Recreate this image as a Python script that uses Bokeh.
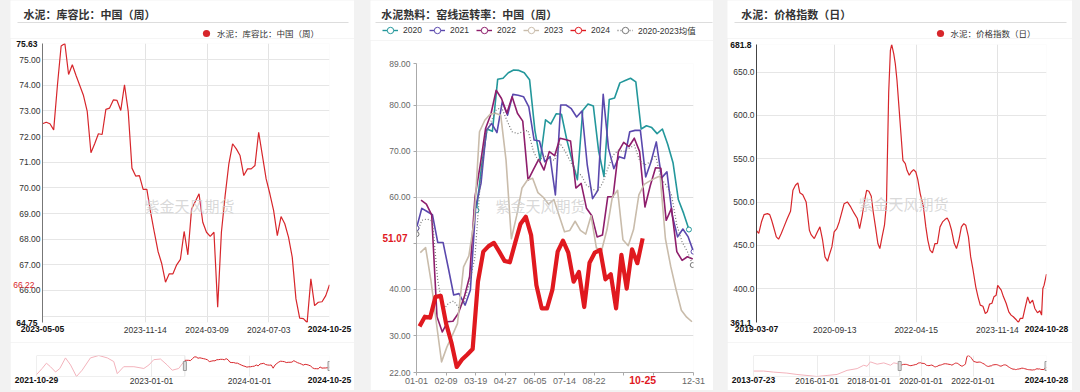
import numpy as np
import pandas as pd
from bokeh.plotting import figure
from bokeh.models import (Range1d, FixedTicker, PrintfTickFormatter, DatetimeTickFormatter,
                          Label, Legend, LegendItem, BoxAnnotation, Spacer, LinearAxis,
                          DatetimeAxis, Plot)
from bokeh.layouts import row, column
from bokeh.core.properties import value
from bokeh.embed import file_html
from bokeh.resources import INLINE

FONT = "Liberation Sans, Noto Sans CJK SC"
TFONT = "Noto Sans CJK SC"
RED = "#d7262b"
PINK = "#f3b3bc"
WATERMARK = "紫金天风期货"

# ---------------- Panel 1 data: 水泥 库容比 (weekly) ----------------
p1_title = "水泥：库容比：中国（周）"
p1_start = "2023-05-05"
p1_vals = [72.50, 72.56, 72.50, 72.26, 73.99, 75.53, 75.63, 74.42, 74.80, 74.38,
           73.99, 73.60, 72.98, 71.37, 71.72, 72.11, 72.08, 73.06, 73.11, 73.43,
           73.41, 73.02, 74.02, 72.98, 70.77, 70.46, 70.48, 69.94, 69.94, 69.05,
           68.27, 67.52, 67.04, 66.32, 66.65, 66.65, 67.00, 67.21, 68.30, 67.39,
           69.18, 69.47, 69.77, 68.66, 68.27, 68.11, 68.27, 65.35, 68.27, 69.70,
           70.94, 71.72, 71.52, 71.26, 70.48, 70.74, 70.74, 70.87, 72.17, 71.26,
           70.35, 69.77, 69.12, 68.14, 68.88, 68.60, 68.08, 67.30, 65.67, 64.92,
           64.90, 64.75, 66.45, 65.41, 65.54, 65.56, 65.80, 66.22]
p1_xticks = ["2023-11-14", "2024-03-09", "2024-07-03"]
p1_ygrid = [65, 66, 67, 68, 69, 70, 71, 72, 73, 74, 75]
p1_yticks = [66, 67, 68, 69, 70, 71, 72, 73, 74, 75]
p1_hist_dates = ["2021-10-29", "2021-11-19", "2021-12-05", "2021-12-20", "2022-01-08",
                 "2022-01-24", "2022-02-14", "2022-03-05", "2022-03-27", "2022-04-17",
                 "2022-05-18", "2022-06-18", "2022-07-20", "2022-08-13", "2022-08-26",
                 "2022-09-19", "2022-10-27", "2022-12-03", "2022-12-22", "2023-01-09",
                 "2023-02-03", "2023-02-28", "2023-03-19", "2023-04-12"]
p1_hist_vals = [59.5, 65.1, 69.9, 66.7, 61.9, 65.1, 74.7, 68.3, 57.8, 63.5,
                74.7, 76.9, 74.7, 71.4, 60.4, 66.7, 66.7, 65.1, 68.3, 73.1,
                73.7, 68.3, 63.5, 65.1]
p1_slider_ticks = ["2023-01-01", "2024-01-01"]

# ---------------- Panel 2 data: 熟料 窑线运转率 (weekly, seasonal) ----------------
p2_title = "水泥熟料：窑线运转率：中国（周）"
p2_names = ["2020", "2021", "2022", "2023", "2024", "2020-2023均值"]
p2_starts = ["2020-01-03", "2021-01-01", "2022-01-07", "2023-01-06", "2024-01-05", "2024-01-01"]
p2_colors = ["#23979b", "#5a48ad", "#8e1e6c", "#c9bcab", "#e0191f", "#777777"]
nan = float("nan")
v2020 = [nan] * 11 + [57.2, 67.0, 74.8, 74.3, 85.6, 85.8, 87.0, 87.6, 87.5, 87.0,
                      85.5, 74.5, 68.0, 76.8, 75.9, 78.1, 78.0, 72.5, 68.0, 63.8,
                      78.8, 80.2, 79.8, 70.0, 64.5, 81.2, 81.5, 84.8, 85.3, 85.8,
                      85.0, 74.8, 75.5, 75.1, 73.8, 74.8, 71.5, 67.5, 59.5, 56.5, 53.0]
v2021 = [53.3, 57.6, 56.9, 56.2, 50.2, 50.2, 44.6, 38.8, 39.1, 36.6, 39.9, 58.0, 63.0,
         74.5, 76.0, 74.0, 80.7, 77.8, 82.3, 82.1, 81.8, 79.6, 72.4, 72.2, 67.7, 68.8,
         60.5, 80.0, 80.0, 79.2, 77.4, 78.7, 67.0, 59.7, 61.5, 82.3, 70.6, 66.2, 68.8,
         68.4, 74.2, 74.5, 74.5, 64.4, 67.7, 72.0, 64.2, 65.5, 56.1, 51.4, 53.1, 51.4, 48.2]
v2022 = [59.4, 58.5, 56.2, 34.1, 30.8, 33.0, 33.1, 34.8, 38.4, 42.8, 60.0, 67.0, 74.9,
         78.0, 83.2, 81.4, 78.2, 81.8, 78.2, 76.5, 63.7, 66.0, 68.2, 65.9, 69.9, 69.0,
         72.8, 72.5, 72.2, 62.0, 63.0, 57.6, 56.0, 51.4, 51.8, 60.1, 60.1, 69.9, 71.9,
         71.0, 72.8, 69.9, 57.9, 62.5, 66.4, 66.3, 55.0, 57.6, 48.2, 46.3, 47.1, 46.6]
v2023 = [48.0, 49.1, 42.0, 33.0, 24.3, 27.5, 30.0, 32.6, 44.9, 47.3, 55.0, 74.2, 76.7,
         78.0, 78.2, 77.8, 68.0, 51.0, 56.0, 62.0, 63.7, 64.1, 61.0, 60.0, 58.5, 59.5,
         56.0, 52.5, 52.8, 54.8, 52.8, 52.0, 56.0, 49.0, 48.5, 53.0, 60.0, 61.5, 50.8,
         49.5, 53.0, 60.5, 62.8, 63.5, 64.1, 64.6, 51.0, 45.0, 40.0, 35.5, 34.0, 33.0]
v2024 = [32.0, 34.1, 33.9, 38.4, 38.6, 32.6, 28.5, 23.2, 24.8, 25.9, 27.1, 41.7, 48.2,
         49.4, 50.1, 48.2, 46.2, 45.9, 50.1, 54.2, 55.8, 51.8, 40.9, 35.9, 35.9, 39.9,
         48.2, 50.6, 48.0, 41.7, 43.8, 36.2, 45.8, 48.0, 48.6, 42.2, 43.3, 35.9, 47.5,
         40.2, 48.7, 45.7, 51.07]
vavg = [52.0, 55.0, 55.3, 54.8, 42.0, 35.5, 37.0, 37.5, 36.0, 37.5, 41.5, 47.0, 63.0,
        73.5, 76.4, 78.9, 79.5, 76.7, 74.2, 73.8, 74.2, 74.5, 70.0, 67.7, 69.1, 68.4,
        68.0, 71.7, 69.9, 67.7, 65.5, 64.8, 62.6, 61.9, 61.2, 63.0, 66.2, 69.1, 70.2,
        69.9, 70.6, 71.3, 68.0, 67.0, 67.7, 69.1, 64.1, 62.6, 60.5, 54.0, 50.3, 48.2, 45.3]
p2_values = [v2020, v2021, v2022, v2023, v2024, vavg]
p2_xticks = [0, 39, 78, 117, 156, 195, 234, 273, 312, 365]
p2_xlabels = ["01-01", "02-09", "03-19", "04-27", "06-05", "07-14", "08-22", "", "", "12-31"]
p2_yticks = [22, 30, 40, 50, 60, 70, 80, 89]

# ---------------- Panel 3 data: 水泥 价格指数 (daily) ----------------
p3_title = "水泥：价格指数（日）"
p3_dates = ["2019-03-07", "2019-03-23", "2019-04-11", "2019-04-30", "2019-05-24", "2019-06-09",
            "2019-06-21", "2019-07-03", "2019-07-26", "2019-08-11", "2019-08-30", "2019-09-18",
            "2019-10-12", "2019-11-04", "2019-11-21", "2019-12-09", "2019-12-26",
            "2020-01-09", "2020-01-30", "2020-02-23", "2020-03-17", "2020-03-29", "2020-04-21",
            "2020-05-15", "2020-05-31", "2020-06-19", "2020-07-06", "2020-07-24", "2020-08-05",
            "2020-08-24", "2020-09-09", "2020-09-28", "2020-10-15", "2020-10-31", "2020-11-19",
            "2020-12-12",
            "2021-01-05", "2021-01-28", "2021-02-21", "2021-03-09", "2021-03-28", "2021-04-14",
            "2021-04-28", "2021-05-14", "2021-05-31", "2021-06-14", "2021-06-30", "2021-07-17",
            "2021-07-31", "2021-08-16", "2021-09-02", "2021-09-16", "2021-10-02", "2021-10-14",
            "2021-10-23", "2021-11-07", "2021-11-18", "2021-11-30", "2021-12-14", "2021-12-28",
            "2022-01-11", "2022-01-28", "2022-02-09", "2022-02-25", "2022-03-11", "2022-03-28",
            "2022-04-13", "2022-04-27", "2022-05-14", "2022-06-06", "2022-06-23", "2022-07-07",
            "2022-07-23", "2022-08-09", "2022-08-27", "2022-09-13", "2022-10-02", "2022-10-20",
            "2022-11-06", "2022-11-22", "2022-12-06", "2022-12-23",
            "2023-01-11", "2023-01-27", "2023-02-13", "2023-03-03", "2023-03-20", "2023-04-03",
            "2023-04-22", "2023-05-08", "2023-05-25", "2023-06-13", "2023-06-29", "2023-07-15",
            "2023-08-03", "2023-08-20", "2023-09-03", "2023-09-19", "2023-10-06", "2023-10-20",
            "2023-11-05", "2023-11-16", "2023-12-11", "2023-12-27",
            "2024-01-15", "2024-02-03", "2024-02-19", "2024-03-06", "2024-03-25", "2024-04-11",
            "2024-04-25", "2024-05-12", "2024-05-28", "2024-06-16", "2024-07-02", "2024-07-21",
            "2024-08-06", "2024-08-25", "2024-09-11", "2024-09-23", "2024-10-02", "2024-10-11",
            "2024-10-28"]
p3_vals = [467.0, 464.0, 477.0, 485.6, 486.7, 485.6, 480.0, 473.3, 459.8, 457.2, 463.7, 471.4,
           481.0, 489.4, 513.6, 519.4, 522.1,
           510.9, 508.6, 500.2, 467.5, 462.5, 457.9, 466.4, 471.4, 456.0, 436.8, 431.8, 438.7,
           448.3, 465.6, 469.4, 477.1, 486.7, 498.2, 500.2,
           494.4, 487.5, 481.0, 469.4, 484.8, 502.1, 513.6, 512.5, 506.7, 488.6, 471.4, 452.2,
           446.4, 459.8, 473.3, 498.0, 626.9, 674.9, 681.8, 671.0, 659.5, 640.3, 609.6, 578.9,
           548.2, 544.3, 536.6, 530.9, 534.7, 537.4, 534.7, 525.9, 509.8, 494.4, 471.4, 456.2,
           444.5, 441.4, 452.2, 452.2, 471.4, 477.1, 479.8, 481.7, 477.1, 467.5,
           452.2, 446.4, 456.0, 471.4, 475.2, 473.3, 459.8, 436.8, 421.4, 402.2, 390.7, 381.1,
           379.9, 371.5, 373.4, 382.3, 383.3, 390.7, 392.6, 404.0, 398.4, 390.7,
           383.3, 373.4, 369.6, 367.7, 364.6, 361.1, 366.0, 365.8, 377.3, 390.7, 383.1, 386.9,
           377.3, 372.3, 374.6, 369.6, 400.3, 404.2, 417.0]
p3_xticks = ["2020-09-13", "2022-04-15", "2023-11-14"]
p3_yticks = [400, 450, 500, 550, 600, 650]
p3_hist_dates = ["2013-07-23", "2013-12-11", "2014-04-30", "2014-11-04", "2015-03-25",
                 "2015-08-13", "2016-01-01", "2016-05-21", "2016-10-08", "2017-02-26",
                 "2017-07-17", "2017-10-18", "2017-12-04", "2018-01-20", "2018-04-25",
                 "2018-07-27", "2018-10-29", "2018-12-14", "2019-01-31"]
p3_hist_vals = [339, 339, 316, 294, 264, 242, 219, 242, 264, 354,
                393, 467, 445, 541, 490, 519, 467, 519, 505]
p3_slider_ticks = ["2016-01-01", "2018-01-01", "2020-01-01", "2022-01-01"]

AXPROPS = LinearAxis.properties()
AX_BG = "major_label_background_fill_color" in AXPROPS
AX_BORDER = "major_label_border_line_color" in AXPROPS
HAS_FRAME_ALIGN = "frame_align" in Plot.properties()


# ---------------- helpers ----------------
def ms(d):
    return pd.Timestamp(d).value / 1e6


def make_fig(w, h, l, r, t, b, **kw):
    p = figure(width=w, height=h, min_border_left=l, min_border_right=r,
               min_border_top=t, min_border_bottom=b,
               toolbar_location=None, output_backend="svg", **kw)
    p.outline_line_color = None
    p.border_fill_color = "white"
    p.background_fill_color = "white"
    if HAS_FRAME_ALIGN:
        p.frame_align = False
    return p


def style_axis(ax, size="8.5px", color="#333333", line=None, tick_out=0, standoff=2,
               bold=False):
    ax.major_label_text_font = FONT
    ax.major_label_text_font_size = size
    ax.major_label_text_color = color
    ax.major_label_text_font_style = "bold" if bold else "normal"
    ax.axis_line_color = line
    ax.major_tick_line_color = line if tick_out else None
    ax.major_tick_out = tick_out
    ax.major_tick_in = 0
    ax.minor_tick_line_color = None
    ax.major_label_standoff = standoff


def add_label(p, text, x, y, size="8.5px", color="#333333", bold=False, align="left",
              font=FONT, **kw):
    lab = Label(x=x, y=y, x_units="screen", y_units="screen", text=text, text_font=font,
                text_font_size=size, text_color=color,
                text_font_style="bold" if bold else "normal",
                text_align=align, text_baseline="middle", **kw)
    p.add_layout(lab)
    return lab


def make_header(w, h, title, tx, sep_x0, sep_x1):
    hf = make_fig(w, h, 0, 0, 0, 0, x_axis_location=None, y_axis_location=None)
    hf.x_range = Range1d(0, 1)
    hf.y_range = Range1d(0, 1)
    hf.grid.visible = False
    add_label(hf, title, tx, h - 13, size="11px", bold=True, color="#333333", font=TFONT)
    hf.add_layout(BoxAnnotation(left=sep_x0, right=sep_x1, top=h - 21.5, bottom=h - 22.5,
                                left_units="screen", right_units="screen",
                                top_units="screen", bottom_units="screen",
                                fill_color="#dddddd", fill_alpha=1.0, line_color=None))
    return hf


def watermark(p, x, y):
    add_label(p, WATERMARK, x, y, size="15px", color="#cfcfcf", align="center",
              font=TFONT, text_alpha=0.8)


DATEFMT = DatetimeTickFormatter(microseconds="%Y-%m-%d", milliseconds="%Y-%m-%d",
                                seconds="%Y-%m-%d", minsec="%Y-%m-%d", minutes="%Y-%m-%d",
                                hourmin="%Y-%m-%d", hours="%Y-%m-%d", days="%Y-%m-%d",
                                months="%Y-%m-%d", years="%Y-%m-%d")


def date_card(w, l, r, t, dates, vals, title, title_x, legend_x, wm, xticks, yticks, ygrid,
              yfmt, axis_color):
    # header: title, rule, legend
    HH = 38
    hdr = make_header(w, HH, title, title_x, 7, w - 6)
    hsc = hdr.scatter(dates, vals, size=0, fill_color=RED, line_color=None)
    leg = Legend(items=[LegendItem(label=value(title), renderers=[hsc])],
                 location=(legend_x, HH - 32.5 - 9), orientation="horizontal",
                 glyph_width=18, glyph_height=18, label_standoff=2,
                 padding=0, margin=0, border_line_color=None, background_fill_alpha=0,
                 label_text_font=FONT, label_text_font_size="8.5px",
                 label_text_color="#333333")
    hdr.add_layout(leg)

    p = make_fig(w, 304, l, r, t, 20, x_axis_type="datetime")
    p.x_range = Range1d(ms(dates[0]), ms(dates[-1]))
    p.y_range = Range1d(min(vals), max(vals))
    p.line(dates, vals, line_color=RED, line_width=1.2)

    style_axis(p.yaxis, line=axis_color)
    p.yaxis.ticker = FixedTicker(ticks=yticks)
    p.yaxis.formatter = PrintfTickFormatter(format=yfmt)
    style_axis(p.xaxis, standoff=4)
    p.xaxis.ticker = FixedTicker(ticks=[ms(d) for d in xticks])
    p.xaxis.formatter = DATEFMT
    p.ygrid.ticker = FixedTicker(ticks=ygrid)
    p.xgrid.ticker = FixedTicker(ticks=[ms(d) for d in xticks])
    p.ygrid.grid_line_color = "#e6e6e6"
    p.xgrid.grid_line_color = "#e3e3e3"

    # bold extreme values on the y axis, bold first/last dates on the x axis
    yo = LinearAxis(ticker=FixedTicker(ticks=[min(vals), max(vals)]),
                    formatter=PrintfTickFormatter(format=yfmt))
    style_axis(yo, color="#111111", standoff=-21, bold=True)
    p.add_layout(yo, "left")
    xo = DatetimeAxis(ticker=FixedTicker(ticks=[ms(dates[0]), ms(dates[-1])]),
                      formatter=DATEFMT)
    style_axis(xo, color="#111111", standoff=-10, bold=True)
    p.add_layout(xo, "below")
    watermark(p, wm[0], wm[1])
    return hdr, p


def slider(w, l, r, hist_dates, hist_vals, dates, vals, ticks):
    s = make_fig(w, 48, l, r, 13, 14, x_axis_type="datetime", y_axis_location=None)
    allv = list(hist_vals) + list(vals)
    lo, hi = min(allv), max(allv)
    s.x_range = Range1d(ms(hist_dates[0]), ms(dates[-1]))
    s.y_range = Range1d(lo, hi)
    s.line(list(pd.to_datetime(hist_dates)) + [pd.Timestamp(dates[0])],
           list(hist_vals) + [vals[0]], line_color=PINK, line_width=1)
    s.line(dates, vals, line_color=RED, line_width=1)
    s.add_layout(BoxAnnotation(left=ms(hist_dates[0]), right=ms(dates[0]),
                               fill_alpha=0, line_color="#aaaaaa", line_width=1))
    s.rect(x=[pd.Timestamp(dates[0]), pd.Timestamp(dates[-1])], y=[(lo + hi) / 2] * 2,
           width=3, height=9, width_units="screen", height_units="screen",
           fill_color="#e6e6e6", line_color="#999999")
    style_axis(s.xaxis, standoff=1)
    s.xaxis.ticker = FixedTicker(ticks=[ms(d) for d in ticks])
    s.xaxis.formatter = DATEFMT
    s.xgrid.ticker = FixedTicker(ticks=[ms(d) for d in ticks])
    s.xgrid.grid_line_color = "#ececec"
    s.ygrid.visible = False
    xo = DatetimeAxis(ticker=FixedTicker(ticks=[ms(hist_dates[0]), ms(dates[-1])]),
                      formatter=DATEFMT)
    style_axis(xo, color="#111111", standoff=-10, bold=True)
    s.add_layout(xo, "below")
    return s


# ---------------- Panel 1 ----------------
d1 = pd.date_range(p1_start, periods=len(p1_vals), freq="7D")
h1, f1 = date_card(344, 26, 25, 5, d1, p1_vals, p1_title, 13, 187, (147, 117),
                   p1_xticks, p1_yticks, p1_ygrid, "%.2f", "#777777")
# latest value marker on the y axis
yl = LinearAxis(ticker=FixedTicker(ticks=[p1_vals[-1]]), formatter=PrintfTickFormatter(format="%.2f"))
style_axis(yl, color="white" if AX_BG else RED, standoff=-21)
if AX_BG:
    yl.major_label_background_fill_color = RED
f1.add_layout(yl, "left")
s1 = slider(344, 26, 25, p1_hist_dates, p1_hist_vals, d1, p1_vals, p1_slider_ticks)

# ---------------- Panel 3 ----------------
d3 = pd.to_datetime(p3_dates)
h3, f3 = date_card(345, 26, 26, 6, d3, p3_vals, p3_title, 13.7, 203.5, (147, 119),
                   p3_xticks, p3_yticks, p3_yticks, "%.1f", "#444444")
s3 = slider(345, 26, 26, p3_hist_dates, p3_hist_vals, d3, p3_vals, p3_slider_ticks)

# ---------------- Panel 2 ----------------
def doy(dates):
    return [(d.replace(year=2024) - pd.Timestamp("2024-01-01")).days for d in dates]


h2 = make_header(343, 40, p2_title, 10.7, 5, 342)
f2 = make_fig(343, 350, 46, 20, 23, 18)
f2.x_range = Range1d(p2_xticks[0], p2_xticks[-1])
f2.y_range = Range1d(p2_yticks[0], p2_yticks[-1])

end_marks = [True, True, False, False, False, True]
widths = [1.6, 1.6, 1.6, 1.6, 4.2, 1.2]
dashes = ["solid", "solid", "solid", "solid", "solid", "1 2"]
order = [0, 1, 2, 3, 5, 4]
items = {}
for i in order:
    vals = p2_values[i]
    ds = pd.date_range(p2_starts[i], periods=len(vals), freq="7D")
    xs = doy(ds)
    col = p2_colors[i]
    f2.line(xs, vals, line_color=col, line_width=widths[i], line_dash=dashes[i],
            line_join="round")
    valid = [k for k, v in enumerate(vals) if v == v]
    ek = [valid[0], valid[-1]]
    f2.scatter([xs[k] for k in ek], [vals[k] for k in ek],
               size=5 if end_marks[i] else 0, marker="circle",
               fill_color="white", line_color=col, line_width=1)
    # legend sample renderers in the header (outside its visible range)
    hl = h2.line(xs, vals, line_color=col, line_width=1.4, line_dash=dashes[i])
    hs = h2.scatter(xs, vals, size=0, marker="circle", fill_color="white",
                    line_color=col, line_width=1)
    items[i] = LegendItem(label=value(p2_names[i]), renderers=[hl, hs])

leg2 = Legend(items=[items[i] for i in range(6)], orientation="horizontal", location=(12, 2),
              glyph_width=16, glyph_height=16, label_standoff=5, spacing=6,
              padding=0, margin=0, border_line_color=None, background_fill_alpha=0,
              label_text_font=FONT, label_text_font_size="8.5px", label_text_color="#333333")
h2.add_layout(leg2)

style_axis(f2.yaxis, size="8.5px", color="#666666", line="#aaaaaa", tick_out=3, standoff=3)
f2.yaxis.ticker = FixedTicker(ticks=p2_yticks)
f2.yaxis.formatter = PrintfTickFormatter(format="%.2f")
if not AX_BG:
    f2.yaxis.major_label_overrides = {50: ""}
style_axis(f2.xaxis, size="9px", color="#666666", line="#aaaaaa", tick_out=3, standoff=2)
f2.xaxis.ticker = FixedTicker(ticks=p2_xticks)
f2.xaxis.major_label_overrides = {t: lab for t, lab in zip(p2_xticks, p2_xlabels)}
f2.ygrid.ticker = FixedTicker(ticks=p2_yticks[1:])
f2.ygrid.grid_line_color = "#dddddd"
f2.xgrid.visible = False

# latest 2024 value on the y axis and its date on the x axis (red, bold)
d2024 = pd.date_range(p2_starts[4], periods=len(v2024), freq="7D")
yv = LinearAxis(ticker=FixedTicker(ticks=[v2024[-1]]), formatter=PrintfTickFormatter(format="%.2f"))
style_axis(yv, size="10px", color="#e0191f", standoff=-21, bold=True)
if AX_BG:
    yv.major_label_background_fill_color = "white"
if AX_BORDER:
    yv.major_label_border_line_color = "#dddddd"
f2.add_layout(yv, "left")
xv = LinearAxis(ticker=FixedTicker(ticks=[doy(d2024)[-1]]))
style_axis(xv, size="10.5px", color="#e0191f", standoff=-11, bold=True)
xv.major_label_overrides = {doy(d2024)[-1]: d2024[-1].strftime("%m-%d")}
if AX_BG:
    xv.major_label_background_fill_color = "white"
f2.add_layout(xv, "below")
watermark(f2, 124, 167)

# ---------------- layout ----------------
layout = row(Spacer(width=10, height=392), column(h1, f1, s1),
             Spacer(width=16, height=392), column(h2, f2),
             Spacer(width=14, height=392), column(h3, f3, s3),
             Spacer(width=8, height=392),
             styles={"background-color": "#f2f2f2"})

open("out.html", "w").write(file_html(layout, INLINE))
